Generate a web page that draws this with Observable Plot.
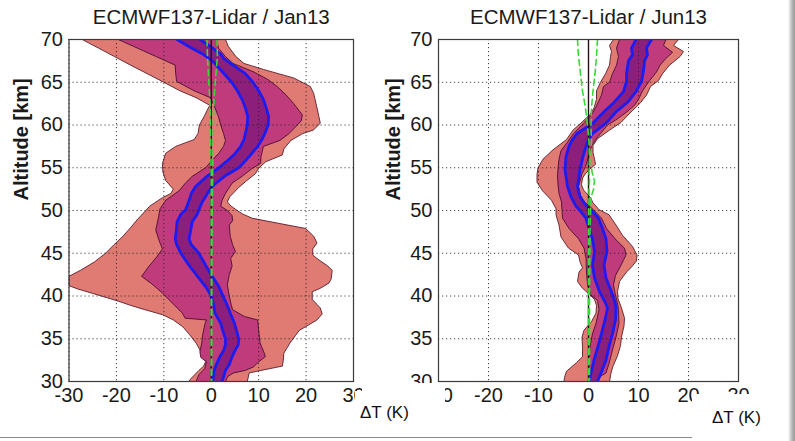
<!DOCTYPE html>
<html>
<head>
<meta charset="utf-8">
<script src="https://cdn.jsdelivr.net/npm/d3@7"></script>
<script src="https://cdn.jsdelivr.net/npm/@observablehq/plot@0.6"></script>
<style>
  html, body { margin: 0; padding: 0; background: #fff; }
  #wrap { position: relative; width: 795px; height: 441px; overflow: hidden; background: #fff;
          font-family: "Liberation Sans", Arial, sans-serif; }
  #wrap .pane { position: absolute; top: 0; }
  .mask { position: absolute; background: #fff; }
  .unit { position: absolute; font-size: 17px; color: #111; white-space: nowrap; line-height: 1; }
  .edge-b { position: absolute; background: #8a8a8a; }
  .edge-r { position: absolute; background: linear-gradient(to right, #ffffff, #b4b4b4 60%, #9a9a9a); }
</style>
</head>
<body>
<div id="wrap"></div>
<script>
// Shared axes
const altTicks = [30, 35, 40, 45, 50, 55, 60, 65, 70];
const dtTicks = [-30, -20, -10, 0, 10, 20, 30];

// ---- January 2013: ECMWF137 minus lidar temperature difference [altitude km, ΔT K]
const janOuterLo = [[70,-27.2],[69,-23.8],[68,-20.4],[67,-17],[66,-13.5],[65,-10],[64,-6.6],[63.2,-3.2],[62.3,-0.3],[62,-0.6],[61,-1.5],[60,-2.5],[59,-2.8],[58.3,-3.6],[57.5,-7.5],[56.7,-9.6],[55.5,-10.3],[54.5,-10.2],[53.5,-9.6],[52.5,-8],[52,-8.5],[51.5,-10.3],[50.5,-13],[50,-13.8],[49,-15.5],[48,-17],[47,-18.6],[46,-20.5],[45,-22.3],[44,-24.6],[43,-27.6],[42.3,-30],[41.2,-30],[40.8,-28],[40.3,-25],[39.8,-22],[39.4,-19.6],[38.9,-17],[38.4,-14],[37.8,-10.2],[37.2,-8],[36.4,-6],[35.5,-4.6],[34.5,-3.2],[33.5,-2.2],[32.7,-1.5],[32.3,-1.2],[31.8,-1.6],[31.3,-2.6],[30.5,-4],[30,-4.8]];
const janOuterHi = [[70,3],[69.2,3.6],[68,5.2],[67.2,6.9],[66.5,11],[65.5,17.4],[64.5,20.9],[63.7,21.6],[62,22.3],[61,22.7],[60.2,23],[59.4,21.5],[59,19.3],[58.2,16.8],[57.2,15.3],[56.5,15],[55.7,11.5],[55,10.1],[54.3,9.3],[53.5,7.5],[52.7,5.8],[51.6,3.9],[51,3.4],[50.5,4.2],[50,5.5],[49.6,6.6],[49.1,8.6],[48.5,14.2],[47.9,19.9],[47,21.6],[46.2,22.3],[45.5,21.4],[44.8,21.4],[44.3,22.5],[43.5,24.6],[43,25.5],[42,25.3],[41.5,24.8],[40.9,23],[40.5,21.3],[39.6,21.3],[38.6,23],[37.9,23.4],[37.2,22.3],[36.6,20.5],[36,18.6],[35.4,17.8],[34.5,16.6],[33.3,15.3],[32.5,15.2],[31.8,15],[31.3,10.5],[31,8],[30,7.6]];
const janMidLo = [[70,-19.6],[69,-15.6],[68,-11.6],[67,-7.6],[66,-7.5],[65.1,-7.3],[64,-3.6],[63.2,-0.2],[62,0.8],[61,1.5],[60,2],[59,2.6],[58.2,3],[57.5,2.6],[56.7,1.6],[56,0.4],[55,-1.2],[54,-4],[53.3,-5.3],[52.3,-6.8],[51.2,-9.6],[50.2,-10.8],[49,-11.2],[47.7,-11.7],[46.5,-11],[45.5,-10.3],[44.5,-11.6],[43.5,-13.1],[42.3,-14.7],[41.4,-12.5],[40.4,-10.4],[39.5,-8.8],[38.5,-7],[38,-6.1],[37.4,-5.5],[37.2,-1],[36.8,-1.3],[35.5,-1.8],[34.5,-2],[33.5,-2.4],[32.8,-2.2],[32.3,-1],[31.5,-1.4],[30.8,-2.6],[30,-3.2]];
const janMidHi = [[70,1.2],[69,1.5],[68,3],[67.2,4.6],[66.2,9],[65.3,12],[64.5,13.9],[63.5,15.8],[62.5,17.4],[61.2,19.2],[60.5,19],[59.8,17.8],[59,16.4],[58.2,14.5],[57.5,11],[56.3,10.5],[55.5,10.4],[54.9,8.6],[54,6.5],[53.2,4.4],[52,3],[51.2,2.3],[50.5,2],[50,3.4],[49.4,4.4],[48.8,4.5],[48.3,3.8],[47,4],[46,4.5],[45.2,5.1],[44.4,4.1],[43.5,4.4],[42.5,3.8],[41.3,3.4],[40,3.8],[39,4.2],[38.4,4.5],[37.6,7],[37.2,9.8],[36,10],[34.5,10.3],[33.3,11.2],[32.9,11.4],[32.3,10],[31.7,8.9],[31.3,7.2],[31,4.7],[30.6,3.5],[30,3]];
// inner band: [altitude, lower, upper]
const janInner = [[70,-7.2,-2.3],[69,-4.2,0.3],[68.3,-1.8,2],[67.8,-0.5,2.6],[67.3,0.6,3.8],[66,2.7,7.2],[65,4.3,8.8],[64,5.5,10],[63,6.5,11],[62,7.2,11.6],[61,7.7,12.1],[60,7.6,12],[59,7.2,11.3],[58.3,6.9,10.7],[57.5,6.2,9.8],[56.7,5.1,8.6],[56,3.8,7.5],[55,1.6,5.8],[54,-0.9,2.8],[53.3,-2.3,1.2],[52.8,-3.3,0.2],[52,-4.2,-0.8],[51.6,-4.4,-1.2],[51,-4.8,-1.9],[50.1,-5.4,-2.6],[49.5,-6.5,-3],[48.7,-7.2,-4],[47.5,-7.4,-4.4],[46.7,-7.6,-4.7],[46,-7.3,-4.2],[45,-6.4,-2.6],[44,-5.2,-1.6],[43.6,-4.7,-1.2],[42.3,-2.9,0.2],[41.1,-1.2,1.6],[40.1,-0.1,2.4],[39,0.5,3.3],[38,0.8,4],[36.8,2,4.9],[36,2.4,5.3],[35,3,5.8],[34.3,3,5.7],[33.6,2.6,5],[32.9,1.8,4.4],[32,1.1,3.8],[31.3,0.6,3],[30,0.3,2.3]];
// reference uncertainty: [altitude, lower, upper]
const janGreen = [[70,-0.9,1.2],[68,-0.8,1.3],[66,-0.6,1],[64,-0.4,0.7],[62,-0.2,0.5],[58,-0.1,0.4],[54,0,0.3],[50,0,0.2],[40,0,0.1],[30,0,0.1]];

// ---- June 2013
const junOuterLo = [[70,5],[69.3,4.2],[68.6,4.6],[68,4.4],[67,4.2],[66,3.4],[65,2.4],[64,1.6],[63,1.6],[62,1.1],[61.2,0.3],[60.4,-1.2],[59.4,-3.1],[58.3,-4.4],[57.1,-7.1],[56,-9.1],[55,-10.1],[54.2,-10.3],[53.3,-10.3],[52.3,-9.2],[51.2,-7.4],[50.2,-6.5],[49.5,-6.5],[48.3,-5.9],[46.9,-5.5],[45.6,-4],[44.8,-2],[44,-1.7],[43.3,-1.2],[42.8,-1.9],[41.7,-2.2],[40.9,-1.2],[40.3,0],[39.6,1.2],[38.9,1.6],[38,1.5],[37,0.6],[36,-0.9],[35.2,-1.3],[34,-1.2],[32.9,-1.2],[32.2,-2.4],[31.2,-4.4],[30.5,-4.8],[30,-4.9]];
const junOuterHi = [[70,18],[69.3,17],[68.6,19],[68,18.3],[67,16.2],[66,14.8],[65.2,14],[64.5,12.4],[63.5,11.6],[62.6,10.4],[61.7,8.8],[60.8,7.3],[60.3,6.5],[59.4,4.2],[58.4,1.8],[57.6,0.9],[56.8,0.9],[56,1.2],[55.4,1.4],[55,0.6],[54.4,-0.5],[53.8,-1.2],[53,-1.4],[52.4,-1],[51.5,0.4],[50.9,0.9],[50.1,2.1],[49.5,4.1],[48.3,5.5],[47.1,6.8],[45.8,8.8],[44.8,9.7],[44.1,9.6],[43.4,8.6],[42.8,7.6],[41.7,6.2],[40.5,5.8],[39.7,5.9],[38.6,6.6],[37.4,7.2],[36.5,7.1],[35.2,6.6],[34.2,6.4],[33,5.8],[31.8,4.9],[31,4.5],[30,4.2]];
const junMidLo = [[70,6.2],[69,5.6],[68,6],[67,5.6],[66,4.8],[65,4.2],[64.5,3],[63.5,2.6],[62.1,1.5],[61.2,0.6],[60.2,-1],[59,-3],[58,-4.2],[57,-5.5],[56,-5.9],[55,-6.1],[54,-6.2],[53,-6.1],[52,-5.9],[51,-5.4],[50,-5.3],[49.1,-5.2],[47.9,-3.9],[46.7,-2],[45.6,-0.9],[44.4,-0.5],[42.8,-0.4],[41.3,-0.2],[40.1,0.5],[39.5,1.8],[38.4,2.1],[36.8,1.5],[35.6,0.8],[34.1,0.3],[32.5,0.1],[30,0.1]];
const junMidHi = [[70,15.5],[69.3,15],[68.5,16.8],[67.8,15.5],[67,14.3],[66.2,13.6],[65.1,12.1],[64,10.8],[63,10],[62.3,9.2],[61.5,7.6],[60.6,5.5],[60,3.8],[59,2.4],[58.3,1.4],[57.5,0.6],[56.3,0],[55.1,-0.6],[54.3,-1.3],[53.6,-1.6],[52.8,-2],[51.8,-1.6],[51,-0.8],[50.2,0.8],[49.1,2.6],[47.9,3.6],[46.7,5.3],[45.6,7.2],[44.8,7.5],[43.6,6.5],[42.4,5.4],[41.3,5],[40.1,5.4],[39.2,5.8],[38.4,6],[36.8,6.1],[35.2,5.5],[33.7,4.8],[32.1,4.1],[31,3.5],[30.6,2.4],[30,1.8]];
const junInner = [[70,9.5,12.6],[69,8.6,11.6],[68.2,8.8,11.8],[67.5,8,11.2],[66.8,7.8,11.1],[66,7.6,10.9],[65.1,7.6,10.6],[63.9,7,9.5],[62.7,5.2,7.9],[61.6,3.2,5.6],[60.4,1.2,3.8],[60,0.4,3],[59,-2.3,0.8],[58.2,-3.3,-0.1],[57.5,-3.9,-0.5],[56.3,-4.5,-1.1],[54.8,-4.7,-1.7],[53.6,-4.4,-2],[52.8,-4.2,-2.2],[51.6,-3.5,-1.7],[50.5,-2.5,-0.4],[50.2,-2,0.3],[49.1,-0.5,2],[47.9,0.1,2.8],[46.7,0.8,3.5],[45.2,1.2,3.7],[43.6,0.8,3.1],[42.1,1.2,3.5],[40.5,2.2,4.6],[39.3,3.3,5.3],[38.6,3.8,5.5],[37.2,3.3,5.4],[35.6,2.6,4.8],[34.1,1.9,4.1],[32.5,1.1,3.5],[31,0.5,2.5],[30,0.1,1.8]];
const junGreen = [[70,-2.2,1.8],[68,-2,1.6],[66,-1.6,1.3],[64,-1.2,0.9],[62,-0.6,0.6],[60,-0.2,0.5],[58,0.1,0.6],[56,0.2,0.5],[54.5,0.1,0.7],[53.5,0.2,1.2],[52.5,0.1,1],[51.5,0.1,0.5],[48,0,0.3],[40,0,0.2],[30,0,0.2]];

const font = "'Liberation Sans', Arial, sans-serif";
const plain = (d) => String(d); // hyphen-minus tick labels

// closed outline of a band: lower edge top-down, then upper edge bottom-up
function band(lo, hi) {
  return [...lo, ...hi.slice().reverse()].map(([alt, dt]) => ({alt, dt}));
}

function panel({title, outerLo, outerHi, midLo, midHi, inner, green, width, marginLeft, marginRight, labelDx}) {
  return Plot.plot({
    width,
    height: 441,
    marginLeft,
    marginRight,
    marginTop: 39,
    marginBottom: 60,
    x: {domain: [-30, 30]},
    y: {domain: [30, 70]},
    style: {fontFamily: font, fontSize: "20px", color: "#1a1a1a", background: "transparent", overflow: "visible"},
    marks: [
      Plot.line(band(outerLo, outerHi), {x: "dt", y: "alt", fill: "#e07b74", stroke: "#5c1c2a", strokeWidth: 0.9, clip: true}),
      Plot.line(band(midLo, midHi), {x: "dt", y: "alt", fill: "#c03b7b", stroke: "#4a0f30", strokeWidth: 0.9, clip: true}),
      Plot.areaX(inner, {y: (d) => d[0], x1: (d) => d[1], x2: (d) => d[2], fill: "#8c1f7c", clip: true}),
      Plot.ruleX(dtTicks, {stroke: "#222", strokeWidth: 1, strokeDasharray: "1.2,2.8", strokeOpacity: 0.85}),
      Plot.ruleY(altTicks, {stroke: "#222", strokeWidth: 1, strokeDasharray: "1.2,2.8", strokeOpacity: 0.85}),
      Plot.line(inner, {x: (d) => d[1], y: (d) => d[0], stroke: "#1c1cf0", strokeWidth: 2.8, clip: true}),
      Plot.line(inner, {x: (d) => d[2], y: (d) => d[0], stroke: "#1c1cf0", strokeWidth: 2.8, clip: true}),
      Plot.ruleX([0], {stroke: "#2a0c1c", strokeWidth: 1.4}),
      Plot.line(green, {x: (d) => d[1], y: (d) => d[0], stroke: "#3ad83a", strokeWidth: 1.6, strokeDasharray: "6,4", clip: true}),
      Plot.line(green, {x: (d) => d[2], y: (d) => d[0], stroke: "#3ad83a", strokeWidth: 1.6, strokeDasharray: "6,4", clip: true}),
      Plot.frame({stroke: "#3a3a3a", strokeWidth: 1.2}),
      Plot.axisX(dtTicks, {tickSize: 0, tickPadding: 6, fontSize: 20, label: null, fill: "#1a1a1a", tickFormat: plain}),
      Plot.axisY(altTicks, {tickSize: 0, tickPadding: 6, fontSize: 20, label: null, fill: "#1a1a1a", tickFormat: plain}),
      Plot.text([title], {frameAnchor: "top", lineAnchor: "middle", dy: -22, fontSize: 20.5, fill: "#1a1a1a"}),
      Plot.text(["Altitude [km]"], {frameAnchor: "left", lineAnchor: "middle", rotate: -90, dx: labelDx, dy: -10, fontSize: 20, fontWeight: "bold", fill: "#1a1a1a"})
    ]
  });
}

const wrap = document.getElementById("wrap");

function place(node, left) {
  const div = document.createElement("div");
  div.className = "pane";
  div.style.left = left + "px";
  div.appendChild(node);
  wrap.appendChild(div);
}

place(panel({
  title: "ECMWF137-Lidar / Jan13",
  outerLo: janOuterLo, outerHi: janOuterHi, midLo: janMidLo, midHi: janMidHi,
  inner: janInner, green: janGreen,
  width: 380, marginLeft: 68.5, marginRight: 27, labelDx: -47
}), 0);

place(panel({
  title: "ECMWF137-Lidar / Jun13",
  outerLo: junOuterLo, outerHi: junOuterHi, midLo: junMidLo, midHi: junMidHi,
  inner: junInner, green: junGreen,
  width: 415, marginLeft: 58, marginRight: 57, labelDx: -45
}), 380);

// page decoration: label boxes over the axis strip, unit labels, sheet edges
function box(cls, left, top, w, h) {
  const d = document.createElement("div");
  d.className = cls;
  Object.assign(d.style, {left: left + "px", top: top + "px", width: w + "px", height: h + "px"});
  wrap.appendChild(d);
  return d;
}
box("mask", 355, 391, 90, 46);
box("mask", 362, 383, 83, 9);
box("mask", 692, 394, 97, 47);
box("edge-b", 0, 437, 692, 1);
box("edge-r", 788, 0, 7, 441);

function unit(left, top) {
  const d = document.createElement("div");
  d.className = "unit";
  d.textContent = "ΔT (K)";
  d.style.left = left + "px";
  d.style.top = top + "px";
  wrap.appendChild(d);
}
unit(360, 404);
unit(712, 409);
</script>
</body>
</html>
